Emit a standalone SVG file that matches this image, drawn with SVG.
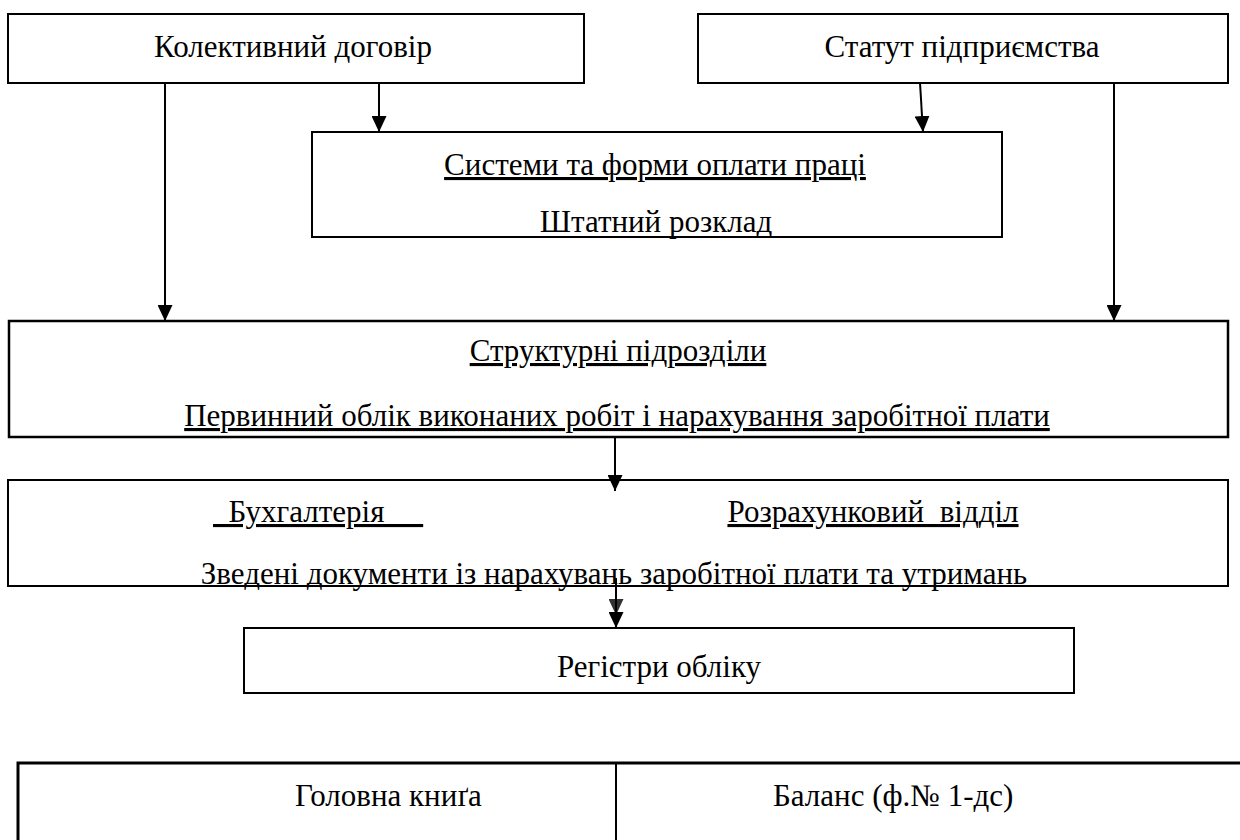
<svg xmlns="http://www.w3.org/2000/svg" width="1240" height="840" viewBox="0 0 1240 840">
<style>
.box{fill:#fff;stroke:#000;stroke-width:2}
.t{font-family:"Liberation Serif","Times New Roman",serif;font-size:31px;fill:#000}
.m{text-anchor:middle}
.u{text-decoration:underline}
.c{fill:none;stroke:#000;stroke-width:2}
</style>
<defs>
<marker id="ah" viewBox="0 0 16 15" refX="16" refY="7.5" markerWidth="16" markerHeight="15" markerUnits="userSpaceOnUse" orient="auto">
<path d="M0,0 L16,7.5 L0,15 z" fill="#000"/>
</marker>
<marker id="ahg" viewBox="0 0 16 15" refX="16" refY="7.5" markerWidth="16" markerHeight="15" markerUnits="userSpaceOnUse" orient="auto">
<path d="M0,0 L16,7.5 L0,15 z" fill="#333"/>
</marker>
</defs>
<rect width="1240" height="840" fill="#fff"/>
<g id="n-kolektyvnyi">
<rect class="box" x="8" y="14" width="576" height="69"/>
<text class="t m" x="293" y="57">Колективний договір</text>
</g>
<g id="n-statut">
<rect class="box" x="698" y="14" width="530" height="69"/>
<text class="t m" x="962" y="57">Статут підприємства</text>
</g>
<g id="n-systemy">
<rect class="box" x="312" y="132" width="690" height="105"/>
<text class="t m u" x="655" y="175">Системи та форми оплати праці</text>
<text class="t m" x="656" y="232">Штатний розклад</text>
</g>
<g id="n-struktura">
<rect class="box" x="9" y="321" width="1219" height="116" style="stroke-width:2.5"/>
<text class="t m u" x="618" y="361">Структурні підрозділи</text>
<text class="t m u" x="617" y="426">Первинний облік виконаних робіт і нарахування заробітної плати</text>
</g>
<g id="n-bukhhalteriia">
<rect class="box" x="8" y="480" width="1220" height="106"/>
<text class="t u" x="213" y="522" xml:space="preserve" style="white-space:pre">  Бухгалтерія     </text>
<text class="t m u" x="873" y="522" xml:space="preserve" style="white-space:pre">Розрахунковий  відділ</text>
<text class="t m" x="614" y="584">Зведені документи із нарахувань заробітної плати та утримань</text>
</g>
<g id="n-rehistry">
<rect class="box" x="244" y="628" width="830" height="65"/>
<text class="t m" x="659" y="677">Регістри обліку</text>
</g>
<g id="n-table">
<path d="M18,840 V763 H1240" fill="none" stroke="#000" stroke-width="3"/>
<path d="M616,763 V840" fill="none" stroke="#000" stroke-width="2"/>
<text class="t" x="295" y="806">Головна книґа</text>
<text class="t" x="773" y="806">Баланс (ф.№ 1-дс)</text>
</g>
<g id="connectors">
<path class="c" d="M165,83 V321" marker-end="url(#ah)"/>
<path class="c" d="M379,83 V132" marker-end="url(#ah)"/>
<path class="c" d="M920,83 L923,132" marker-end="url(#ah)"/>
<path class="c" d="M1114,83 V321" marker-end="url(#ah)"/>
<path class="c" d="M615,437 V491" marker-end="url(#ah)"/>
<path class="c" d="M616,578 V615" style="stroke:#333" marker-end="url(#ahg)"/>
<path class="c" d="M616,578 V628" marker-end="url(#ah)"/>
</g>
</svg>
